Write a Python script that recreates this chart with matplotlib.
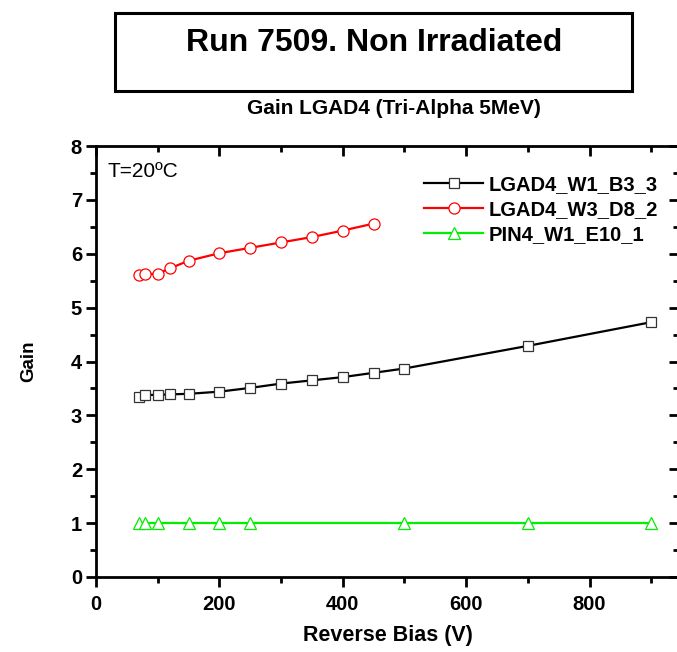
import matplotlib
matplotlib.use("Agg")
import matplotlib.pyplot as plt
from matplotlib.ticker import MultipleLocator
from matplotlib.patches import Rectangle

# Data
bias_b3 = [70, 80, 100, 120, 150, 200, 250, 300, 350, 400, 450, 500, 700, 900]
gain_b3 = [3.35, 3.38, 3.38, 3.39, 3.40, 3.44, 3.51, 3.59, 3.65, 3.71, 3.79, 3.87, 4.29, 4.73]

bias_d8 = [70, 80, 100, 120, 150, 200, 250, 300, 350, 400, 450]
gain_d8 = [5.61, 5.62, 5.63, 5.73, 5.87, 6.01, 6.11, 6.21, 6.31, 6.43, 6.56]

bias_pin = [70, 80, 100, 150, 200, 250, 500, 700, 900]
gain_pin = [1.0, 1.0, 1.0, 1.0, 1.0, 1.0, 1.0, 1.0, 1.0]

labels = ["LGAD4_W1_B3_3", "LGAD4_W3_D8_2", "PIN4_W1_E10_1"]

plt.rcParams['font.family'] = ['Liberation Sans', 'DejaVu Sans']

fig = plt.figure(figsize=(6.77, 6.52), dpi=100)
ax = fig.add_axes([96 / 677, 1 - 577 / 652, (679 - 96) / 677, (577 - 146) / 652])

ax.plot(bias_b3, gain_b3, '-s', color='black', lw=1.6, ms=6.5, mfc='white',
        mec='#333333', mew=0.9, label=labels[0])
ax.plot(bias_d8, gain_d8, '-o', color='#ff0000', lw=1.6, ms=8, mfc='white',
        mec='#ff0000', mew=0.9, label=labels[1])
ax.plot(bias_pin, gain_pin, '-^', color='#00ee00', lw=1.6, ms=8, mfc='white',
        mec='#00ee00', mew=0.9, label=labels[2])

ax.set_xlim(0, 945)
ax.set_ylim(0, 8)
ax.xaxis.set_major_locator(MultipleLocator(200))
ax.xaxis.set_minor_locator(MultipleLocator(100))
ax.yaxis.set_major_locator(MultipleLocator(1))
ax.yaxis.set_minor_locator(MultipleLocator(0.5))

for s in ax.spines.values():
    s.set_linewidth(2)
ax.tick_params(which='both', width=2, direction='out', top=False, right=False)
ax.tick_params(which='major', length=7)
ax.tick_params(which='minor', length=4)
ax.tick_params(axis='both', labelsize=14.5, pad=3)
ax.tick_params(axis='x', pad=6)
for lbl in ax.get_xticklabels() + ax.get_yticklabels():
    lbl.set_fontweight('bold')

# inward mirror ticks on top and right
ax2 = ax.secondary_xaxis('top')
ax2.xaxis.set_major_locator(MultipleLocator(200))
ax2.xaxis.set_minor_locator(MultipleLocator(100))
ax2.tick_params(which='both', direction='in', width=2, labeltop=False)
ax2.tick_params(which='major', length=7)
ax2.tick_params(which='minor', length=4)
ax3 = ax.secondary_yaxis('right')
ax3.yaxis.set_major_locator(MultipleLocator(1))
ax3.yaxis.set_minor_locator(MultipleLocator(0.5))
ax3.tick_params(which='both', direction='in', width=2, labelright=False)
ax3.tick_params(which='major', length=7)
ax3.tick_params(which='minor', length=4)

ax.set_xlabel("Reverse Bias (V)", fontsize=15.5, fontweight='bold', labelpad=8)
ax.set_ylabel("Gain", fontsize=13.5, fontweight='bold', labelpad=24)

ax.text(0.02, 0.962, "T=20ºC", transform=ax.transAxes, fontsize=15,
        ha='left', va='top')

leg = ax.legend(loc='upper right', bbox_to_anchor=(0.985, 0.96), frameon=False,
                fontsize=14.5, handlelength=2.9, handletextpad=0.3,
                labelspacing=0.3, borderaxespad=0.2)
for t in leg.get_texts():
    t.set_fontweight('bold')

fig.text(394 / 677, 1 - 109 / 652, "Gain LGAD4 (Tri-Alpha 5MeV)", fontsize=15,
         fontweight='bold', ha='center', va='center')

fig.patches.append(Rectangle((115 / 677, 1 - 91 / 652), (632 - 115) / 677, (91 - 13) / 652,
                             transform=fig.transFigure, fill=False, lw=2.2,
                             edgecolor='black'))
fig.text(374 / 677, 1 - 43 / 652, "Run 7509. Non Irradiated", fontsize=23,
         fontweight='bold', ha='center', va='center')

fig.savefig("out.png", dpi=100)
